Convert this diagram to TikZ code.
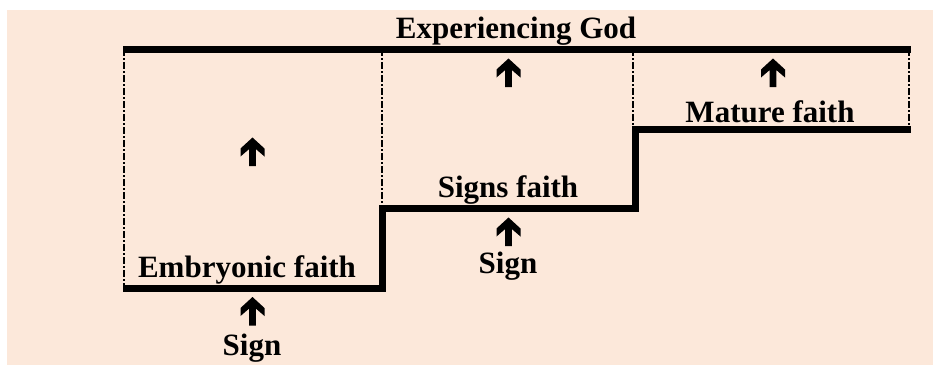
\documentclass[tikz,border=0pt]{standalone}
\usepackage{fontspec}
\setmainfont{Liberation Serif}
\definecolor{peach}{RGB}{252,232,218}
\tikzset{
  lbl/.style={anchor=base,inner sep=0pt,font=\bfseries\fontsize{31}{36}\selectfont},
  stepline/.style={line width=7pt,miter limit=10},
  dashdot/.style={line width=1.6pt,dash pattern=on 7pt off 2pt on 2pt off 2pt},
  uparrow/.pic={\fill (0,0)--(12,11)--(12,19)--(3.3,11.5)--(3.3,28.5)--(-3.3,28.5)--(-3.3,11.5)--(-12,19)--(-12,11)--cycle;}
}
\begin{document}
\begin{tikzpicture}[x=1pt,y=-1pt]
\useasboundingbox (0,0) rectangle (933,365);
\fill[white] (0,0) rectangle (933,365);
\fill[peach] (7,10) rectangle (933,365);
% dash-dot verticals
\draw[dashdot] (124,49) -- (124,288);
\draw[dashdot] (382,49) -- (382,208);
\draw[dashdot] (633,49) -- (633,129);
\draw[dashdot] (909,49) -- (909,129);
% top line
\coordinate (tl) at (123,49);
\coordinate (tr) at (911,49);
\draw[stepline] (tl) -- (tr);
% staircase
\coordinate (s0) at (123,288);
\coordinate (s1) at (382,288);
\coordinate (s2) at (382,208);
\coordinate (s3) at (635,208);
\coordinate (s4) at (635,129);
\coordinate (s5) at (911,129);
\draw[stepline] (s0) -- (s1) -- (s2) -- (s3) -- (s4) -- (s5);
% texts
\node[lbl] (god) at (516,38) {Experiencing God};
\node[lbl] (mature) at (770,122) {Mature faith};
\node[lbl] (signs) at (508,197) {Signs faith};
\node[lbl] (embryo) at (247,277) {Embryonic faith};
\node[lbl] (sign2) at (508,273) {Sign};
\node[lbl] (sign1) at (252,355) {Sign};
% arrows
\pic at (252.5,137.5) {uparrow};
\pic at (508.5,58.5) {uparrow};
\pic at (773,58.5) {uparrow};
\pic at (508.5,217.5) {uparrow};
\pic at (252.5,297) {uparrow};
\end{tikzpicture}
\end{document}
